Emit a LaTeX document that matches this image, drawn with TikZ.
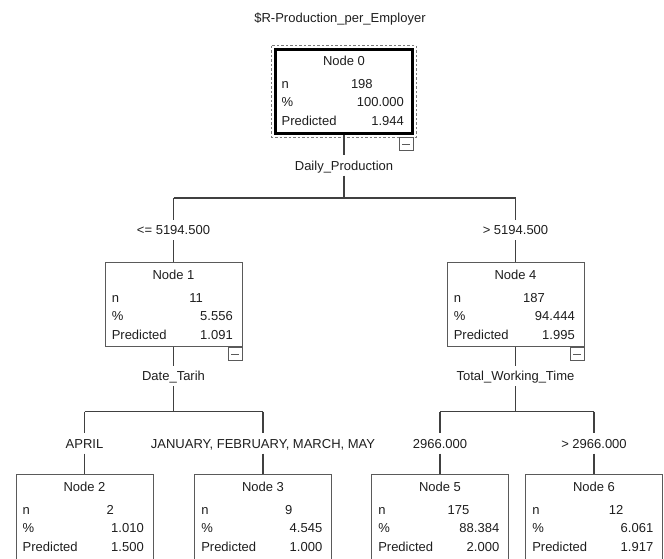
\documentclass[tikz,border=0pt]{standalone}
\usepackage{fontspec}
\setmainfont{Liberation Sans}
\usepackage{tikz}
\usepackage{xcolor}

\definecolor{linegray}{HTML}{404040}
\definecolor{boxgray}{HTML}{5A5A5A}
\definecolor{dashgray}{HTML}{7A7A7A}
\definecolor{textdark}{HTML}{1E1E1E}

% one tree node: box with title and the three statistics rows
\newcommand{\statnode}[8][]{%
  \node[treebox, #1] (#2) at (#3,#4) {};
  \path (#2.north) ++(0,17) node[cell, anchor=base] {#5};
  \path (#2.north west) ++(7,40) node[cell, anchor=base west] {n};
  \path (#2.north west) ++(98.5,40) node[cell, anchor=base east] {#6};
  \path (#2.north west) ++(7,58.5) node[cell, anchor=base west] {\%};
  \path (#2.north east) ++(-9.5,58.5) node[cell, anchor=base east] {#7};
  \path (#2.north west) ++(7,77) node[cell, anchor=base west] {Predicted};
  \path (#2.north east) ++(-9.5,77) node[cell, anchor=base east] {#8};
}

\begin{document}
\begin{tikzpicture}[
                x=1pt, y=-1pt,
                treebox/.style={rectangle, draw=boxgray, line width=0.9pt, minimum width=137pt, minimum height=84pt, inner sep=0pt, anchor=north},
                rootbox/.style={draw=black, line width=2.2pt},
                cell/.style={font=\fontsize{13}{15}\selectfont, text=textdark, inner sep=0pt},
                cond/.style={font=\fontsize{13}{15}\selectfont, text=textdark, inner sep=0pt, text height=9.3pt, text depth=0pt, minimum height=20pt},
                minusbox/.style={rectangle, draw=boxgray, line width=0.9pt, fill=white, minimum width=14pt, minimum height=13pt, inner sep=0pt, anchor=north east,
                    path picture={\draw[boxgray, line width=0.9pt] ([xshift=3pt]path picture bounding box.west) -- ([xshift=-3pt]path picture bounding box.east);}},
                edge/.style={draw=linegray, line width=1.1pt}
            ]
            \clip (0,0) rectangle (664,558);

            \node[cond, anchor=base] (title) at (340,22) {\$R-Production\_per\_Employer};

            % root
            \statnode[rootbox]{n0}{344}{48.3}{Node 0}{198}{100.000}{1.944}
            \draw[draw=dashgray, line width=0.9pt, dash pattern=on 2.5pt off 2pt]
                ([shift={(-2.5pt,2.5pt)}]n0.north west) rectangle ([shift={(2.5pt,-2.5pt)}]n0.south east);
            \node[minusbox] (m0) at ([yshift=-2.5pt]n0.south east) {};

            % first split
            \node[cond] (sp0) at (344,165.5) {Daily\_Production};
            \coordinate (j0) at (344,198);
            \coordinate (j1) at (173.5,198);
            \coordinate (j4) at (515.5,198);
            \node[cond] (c1) at (173.5,230) {<= 5194.500};
            \node[cond] (c4) at (515.5,230) {> 5194.500};

            \statnode{n1}{173.5}{262.3}{Node 1}{11}{5.556}{1.091}
            \statnode{n4}{515.5}{262.3}{Node 4}{187}{94.444}{1.995}
            \node[minusbox] (m1) at (n1.south east) {};
            \node[minusbox] (m4) at (n4.south east) {};

            \draw[edge] (n0) -- (sp0);
            \draw[edge] (sp0) -- (j0);
            \draw[edge] (j1) -- (j4);
            \draw[edge] (j1) -- (c1);
            \draw[edge] (c1) -- (n1);
            \draw[edge] (j4) -- (c4);
            \draw[edge] (c4) -- (n4);

            % second level splits
            \node[cond] (sp1) at (173.5,376) {Date\_Tarih};
            \node[cond] (sp4) at (515.5,376) {Total\_Working\_Time};
            \coordinate (k1) at (173.5,411.7);
            \coordinate (k2) at (84.5,411.7);
            \coordinate (k3) at (263,411.7);
            \coordinate (k4) at (515.5,411.7);
            \coordinate (k5) at (440,411.7);
            \coordinate (k6) at (594,411.7);
            \node[cond] (c2) at (84.5,443.5) {APRIL};
            \node[cond] (c3) at (263,443.5) {JANUARY, FEBRUARY, MARCH, MAY};
            \node[cond] (c5) at (440,443.5) {2966.000};
            \node[cond] (c6) at (594,443.5) {> 2966.000};

            \statnode[minimum height=96pt]{n2}{84.5}{474.3}{Node 2}{2}{1.010}{1.500}
            \statnode[minimum height=96pt]{n3}{263}{474.3}{Node 3}{9}{4.545}{1.000}
            \statnode[minimum height=96pt]{n5}{440}{474.3}{Node 5}{175}{88.384}{2.000}
            \statnode[minimum height=96pt]{n6}{594}{474.3}{Node 6}{12}{6.061}{1.917}

            \draw[edge] (n1) -- (sp1);
            \draw[edge] (sp1) -- (k1);
            \draw[edge] (k2) -- (k3);
            \draw[edge] (k2) -- (c2);
            \draw[edge] (c2) -- (n2);
            \draw[edge] (k3) -- (c3);
            \draw[edge] (c3) -- (n3);
            \draw[edge] (n4) -- (sp4);
            \draw[edge] (sp4) -- (k4);
            \draw[edge] (k5) -- (k6);
            \draw[edge] (k5) -- (c5);
            \draw[edge] (c5) -- (n5);
            \draw[edge] (k6) -- (c6);
            \draw[edge] (c6) -- (n6);
        \end{tikzpicture}
\end{document}
